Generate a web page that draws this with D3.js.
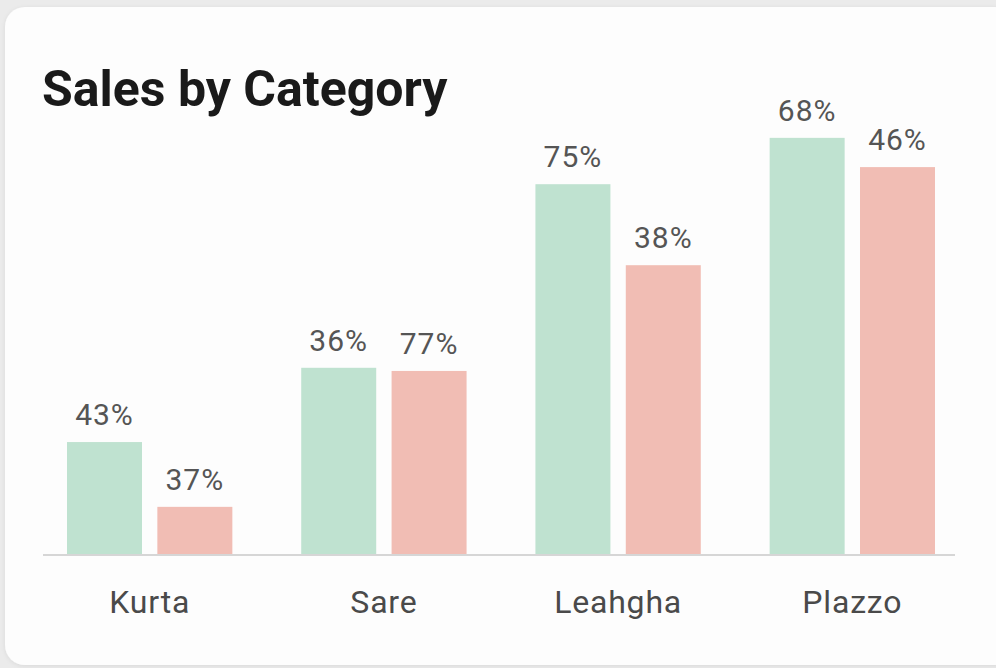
<!DOCTYPE html>
<html>
<head>
<meta charset="utf-8">
<script src="https://cdn.jsdelivr.net/npm/d3@7/dist/d3.min.js"></script>
<style>
  html, body { margin: 0; padding: 0; background: #ebebeb; }
  svg { display: block; }
</style>
</head>
<body>
<svg id="chart" width="996" height="668"></svg>
<script>
// ---- data ----
const categories = ["Kurta", "Sare", "Leahgha", "Plazzo"];
const seriesA = [25.1, 41.6, 82.4, 92.7];          // green bar heights
const seriesB = [10.7, 40.9, 64.4, 86.2];          // pink bar heights
const labelsA = ["43%", "36%", "75%", "68%"];      // printed labels (green)
const labelsB = ["37%", "77%", "38%", "46%"];      // printed labels (pink)
const seriesNames = ["A", "B"];
const colors = ["#bfe2d0", "#f1bdb4"];

const svg = d3.select("#chart");

// card
const defs = svg.append("defs");
const f = defs.append("filter").attr("id", "sh").attr("x", "-5%").attr("y", "-5%").attr("width", "110%").attr("height", "110%");
f.append("feDropShadow").attr("dx", 0).attr("dy", 1).attr("stdDeviation", 2).attr("flood-color", "#000").attr("flood-opacity", 0.08);
svg.append("rect")
  .attr("x", 5).attr("y", 7).attr("width", 1010).attr("height", 658)
  .attr("rx", 20).attr("fill", "#fdfdfd").attr("filter", "url(#sh)");

// title
svg.append("text")
  .attr("x", 42).attr("y", 106)
  .attr("font-family", "Roboto, 'Noto Sans', sans-serif")
  .attr("font-weight", 700)
  .attr("font-size", 50)
  .attr("fill", "#1a1a1a")
  .text("Sales by Category");

// scales
const baseY = 555;
const x0 = d3.scaleBand().domain(categories).range([67, 935]).paddingInner(0.294).paddingOuter(0);
const x1 = d3.scaleBand().domain(seriesNames).range([0, x0.bandwidth()]).paddingInner(0.17);
const y = d3.scaleLinear().domain([0, 100]).range([baseY, 105]);

const rows = categories.map((c, i) => ({
  cat: c,
  vals: [
    { s: "A", v: seriesA[i], label: labelsA[i], color: colors[0] },
    { s: "B", v: seriesB[i], label: labelsB[i], color: colors[1] }
  ]
}));

const g = svg.append("g");
const groups = g.selectAll("g.grp").data(rows).join("g")
  .attr("class", "grp")
  .attr("transform", d => `translate(${x0(d.cat)},0)`);

groups.selectAll("rect").data(d => d.vals).join("rect")
  .attr("x", d => x1(d.s))
  .attr("y", d => y(d.v))
  .attr("width", x1.bandwidth())
  .attr("height", d => y(0) - y(d.v))
  .attr("fill", d => d.color);

groups.selectAll("text.val").data(d => d.vals).join("text")
  .attr("class", "val")
  .attr("x", d => x1(d.s) + x1.bandwidth() / 2)
  .attr("y", d => y(d.v) - 17)
  .attr("text-anchor", "middle")
  .attr("font-family", "Roboto, 'Noto Sans', sans-serif")
  .attr("font-size", 30)
  .attr("letter-spacing", 1)
  .attr("fill", "#555")
  .text(d => d.label);

// baseline axis
const axis = d3.axisBottom(x0).tickSize(0).tickPadding(0);
const ax = svg.append("g").attr("transform", `translate(0,${baseY})`).call(axis);
ax.select(".domain").attr("d", "M43,0H955").attr("stroke", "#d6d6d6").attr("stroke-width", 2);
ax.selectAll(".tick text")
  .attr("y", 58)
  .attr("dy", 0)
  .attr("font-family", "Roboto, 'Noto Sans', sans-serif")
  .attr("font-size", 32)
  .attr("letter-spacing", 0.8)
  .attr("fill", "#4a4a4a");
</script>
</body>
</html>
